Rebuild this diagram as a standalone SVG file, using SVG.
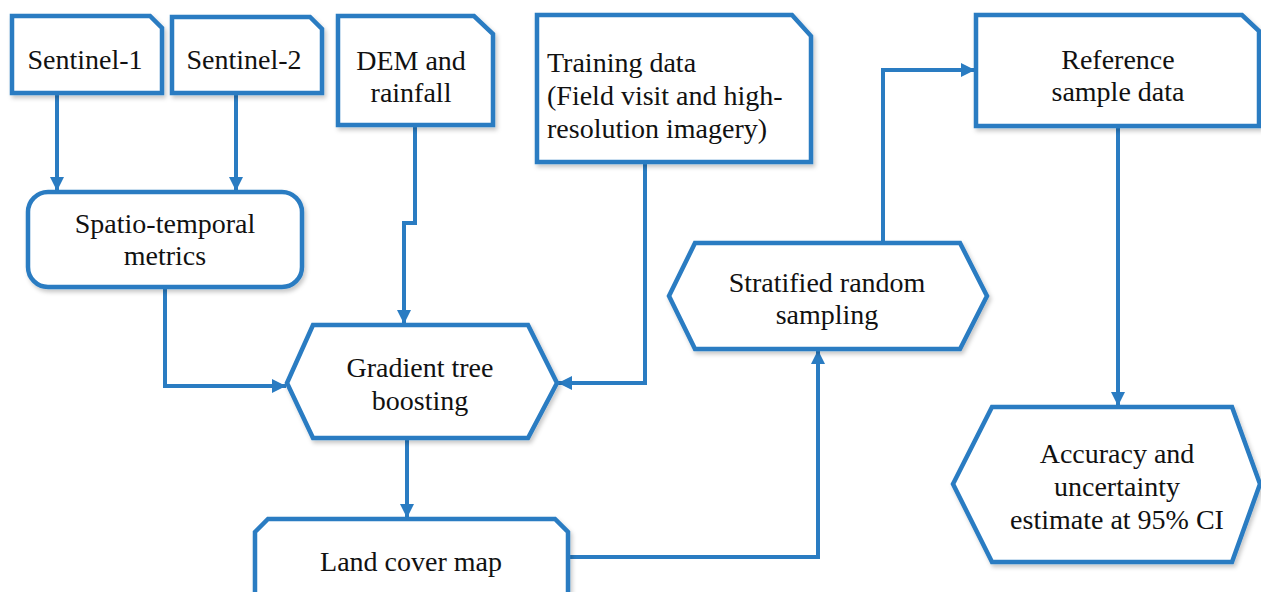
<svg xmlns="http://www.w3.org/2000/svg" width="1261" height="592" viewBox="0 0 1261 592">
  <defs>
    <filter id="shadow" x="-10%" y="-10%" width="130%" height="140%">
      <feDropShadow dx="2" dy="3" stdDeviation="2" flood-color="#000" flood-opacity="0.22"/>
    </filter>
    <marker id="arrow" markerUnits="userSpaceOnUse" markerWidth="16" markerHeight="16" viewBox="0 0 16 16" refX="15" refY="8" orient="auto">
      <path d="M1,1 L15,8 L1,15 Z" fill="#2a7cc2"/>
    </marker>
    <style>
      .shape { fill: #ffffff; stroke: #2a7cc2; stroke-width: 4.5; stroke-linejoin: miter; filter: url(#shadow); }
      .link { fill: none; stroke: #2a7cc2; stroke-width: 4; marker-end: url(#arrow); }
      .label { font-family: "Liberation Serif", "Times New Roman", serif; font-size: 28px; fill: #111111; text-anchor: middle; }
      .left { text-anchor: start; }
    </style>
  </defs>

  <rect width="1261" height="592" fill="#ffffff"/>

  <!-- connectors -->
  <g id="connectors">
    <path class="link" d="M57,93 V191"/>
    <path class="link" d="M236,93 V191"/>
    <path class="link" d="M415,125 V223 H404 V324"/>
    <path class="link" d="M165,287 V386 H286"/>
    <path class="link" d="M645,162 V383 H558"/>
    <path class="link" d="M407,438 V518"/>
    <path class="link" d="M568,557 H818 V350"/>
    <path class="link" d="M883,243 V70 H975"/>
    <path class="link" d="M1118,126 V406"/>
  </g>

  <!-- input documents -->
  <g id="sentinel1">
    <path class="shape" d="M12,16 H150 L162,28 V93 H12 Z"/>
    <text class="label" x="85" y="69">Sentinel-1</text>
  </g>
  <g id="sentinel2">
    <path class="shape" d="M172,17 H310 L322,29 V93 H172 Z"/>
    <text class="label" x="244" y="69">Sentinel-2</text>
  </g>
  <g id="dem">
    <path class="shape" d="M338,16 H474 L493,34 V125 H338 Z"/>
    <text class="label" x="411" y="70">DEM and</text>
    <text class="label" x="411" y="102">rainfall</text>
  </g>
  <g id="training">
    <path class="shape" d="M537,15 H792 L811,36 V162 H537 Z"/>
    <text class="label left" x="547" y="72">Training data</text>
    <text class="label left" x="547" y="105">(Field visit and high-</text>
    <text class="label left" x="547" y="138">resolution imagery)</text>
  </g>
  <g id="reference">
    <path class="shape" d="M976,15 H1242 L1259,31 V126 H976 Z"/>
    <text class="label" x="1118" y="69">Reference</text>
    <text class="label" x="1118" y="101">sample data</text>
  </g>

  <!-- processing steps -->
  <g id="spatio">
    <rect class="shape" x="28" y="192" width="274" height="95" rx="20" ry="20"/>
    <text class="label" x="165" y="233">Spatio-temporal</text>
    <text class="label" x="165" y="265">metrics</text>
  </g>
  <g id="gradient">
    <path class="shape" d="M287,383 L313,325 H528 L557,383 L528,438 H313 Z"/>
    <text class="label" x="420" y="377">Gradient tree</text>
    <text class="label" x="420" y="410">boosting</text>
  </g>
  <g id="landcover">
    <path class="shape" d="M255,532 L268,519 H555 L568,532 V600 H255 Z"/>
    <text class="label" x="411" y="571">Land cover map</text>
  </g>
  <g id="stratified">
    <path class="shape" d="M669,296 L695,243 H960 L987,296 L960,349 H695 Z"/>
    <text class="label" x="827" y="292">Stratified random</text>
    <text class="label" x="827" y="324">sampling</text>
  </g>
  <g id="accuracy">
    <path class="shape" d="M953,484 L992,407 H1232 L1260,484 L1232,562 H992 Z"/>
    <text class="label" x="1117" y="463">Accuracy and</text>
    <text class="label" x="1117" y="496">uncertainty</text>
    <text class="label" x="1117" y="529">estimate at 95% CI</text>
  </g>
</svg>
